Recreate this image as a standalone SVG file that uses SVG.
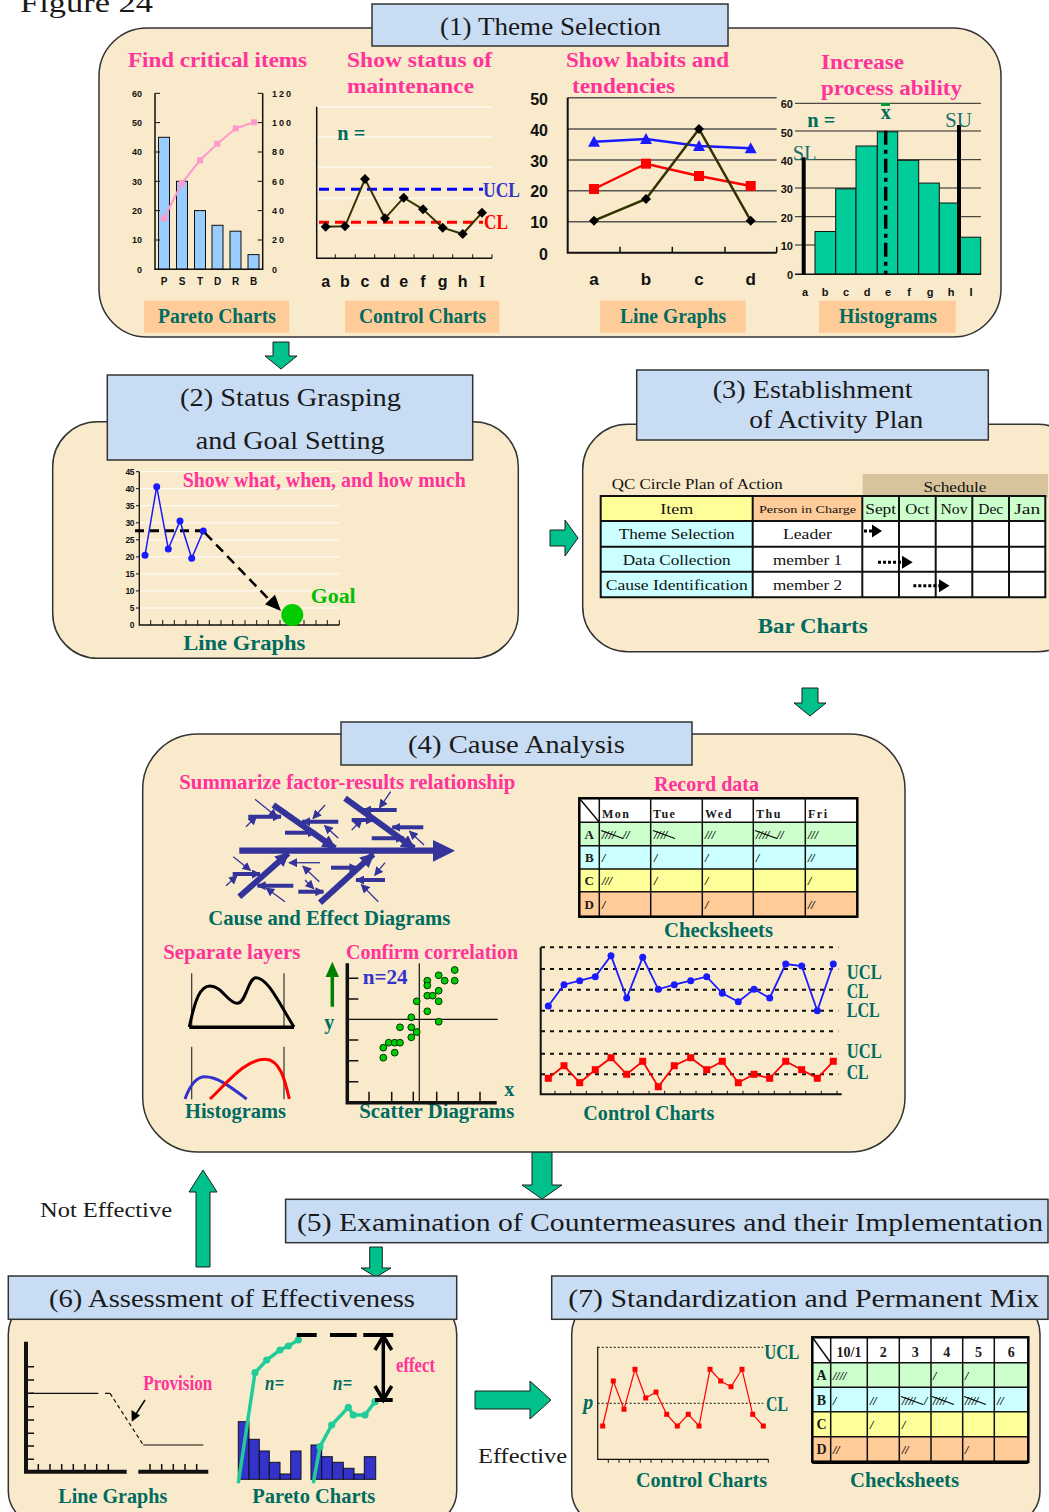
<svg xmlns="http://www.w3.org/2000/svg" width="1049" height="1512" viewBox="0 0 1049 1512">
<defs>
<style>
.panel{fill:#F9EACB;stroke:#333;stroke-width:1.5}
.tbox{fill:#C8DCF4;stroke:#333;stroke-width:1.5}
.ttl{font-family:"Liberation Serif","DejaVu Serif",serif;font-size:26px;fill:#1a1a1a}
.plain{font-family:"Liberation Serif","DejaVu Serif",serif;fill:#1a1a1a}
.pk{font-family:"Liberation Serif","DejaVu Serif",serif;font-weight:bold;font-size:21px;fill:#FF3399}
.tl{font-family:"Liberation Serif","DejaVu Serif",serif;font-weight:bold;font-size:20px;fill:#006B5F}
.lbox{fill:#FFCC99}
.ax{font-family:"Liberation Sans",Arial,sans-serif;font-weight:bold;fill:#111}
.arrow{fill:#00C08C;stroke:#1f1f1f;stroke-width:1}
.tly{font-family:"Liberation Serif",serif;font-style:italic;font-weight:bold;font-size:12px;fill:#000}
.cell{font-family:"Liberation Serif","DejaVu Serif",serif;font-size:14px;fill:#111}
.grid{fill:none;stroke:#111}
.bone{stroke:#333399;fill:none}
</style>
<path id="dia" d="M0,-5L5,0 0,5 -5,0Z" fill="#000"/>
<path id="tri" d="M0,-6L6,5 -6,5Z" fill="#1a1aff"/>
<rect id="sqr" x="-5" y="-5" width="10" height="10" fill="#FF0000"/>
<rect id="sq7" x="-3.5" y="-3.5" width="7" height="7" fill="#FF0000"/>
<rect id="sq5" x="-2.5" y="-2.5" width="5" height="5" fill="#FF0000"/>
<circle id="bdot" r="3.5" fill="#1a1aff"/>
<circle id="gdot" r="3.4" fill="#00CC00" stroke="#003300" stroke-width="1"/>
<circle id="tdot" r="3.6" fill="#22CC99"/>
<g id="five"><text class="tly" x="0" y="0">////</text><line x1="-1" y1="-8" x2="21" y2="0" stroke="#000" stroke-width="1.1"/></g>
<marker id="fh" viewBox="0 0 10 10" refX="9" refY="5" markerWidth="14" markerHeight="14" markerUnits="userSpaceOnUse" orient="auto"><path d="M0,0L10,5 0,10Z" fill="#333399"/></marker>
<marker id="fs" viewBox="0 0 10 10" refX="9" refY="5" markerWidth="9" markerHeight="9" markerUnits="userSpaceOnUse" orient="auto"><path d="M0,0L10,5 0,10Z" fill="#333399"/></marker>
</defs>

<rect width="1049" height="1512" fill="#fff"/>
<text class="plain" x="20" y="12" font-size="28" textLength="133" lengthAdjust="spacingAndGlyphs">Figure 24</text>

<!-- block arrows between stages -->
<g id="connectors">
<path class="arrow" d="M273,342H289V356H297L281,369 265,356H273Z"/>
<path class="arrow" d="M550,530H565V520L578,538 565,556V546H550Z"/>
<path class="arrow" d="M802,688H818V703H826L810,716 794,703H802Z"/>
<path class="arrow" d="M532,1152H552V1185H562L542,1199 522,1185H532Z"/>
<path class="arrow" d="M369.7,1247H382.3V1268H391L376,1277 361,1268H369.7Z"/>
<path class="arrow" d="M196,1267V1192H189L203,1170 217,1192H210V1267Z"/>
<path class="arrow" d="M475,1391H530V1381L551,1400 530,1419V1409H475Z"/>
<text class="plain" x="40" y="1217" font-size="21" textLength="132" lengthAdjust="spacingAndGlyphs">Not Effective</text>
<text class="plain" x="478" y="1463" font-size="21" textLength="89" lengthAdjust="spacingAndGlyphs">Effective</text>
</g>

<!-- (1) Theme Selection -->
<g id="stage1">
<rect class="panel" x="99" y="28" width="902" height="309" rx="48"/>
<rect class="tbox" x="372" y="4" width="356" height="42"/>
<text class="ttl" x="440" y="35" textLength="221" lengthAdjust="spacingAndGlyphs">(1) Theme Selection</text>

<text class="pk" x="128" y="67" textLength="179" lengthAdjust="spacingAndGlyphs">Find critical items</text>
<text class="pk" x="347" y="67" textLength="145" lengthAdjust="spacingAndGlyphs">Show status of</text>
<text class="pk" x="347" y="93" textLength="127" lengthAdjust="spacingAndGlyphs">maintenance</text>
<text class="pk" x="566" y="67" textLength="163" lengthAdjust="spacingAndGlyphs">Show habits and</text>
<text class="pk" x="572" y="93" textLength="103" lengthAdjust="spacingAndGlyphs">tendencies</text>
<text class="pk" x="821" y="69" textLength="83" lengthAdjust="spacingAndGlyphs">Increase</text>
<text class="pk" x="821" y="95" textLength="141" lengthAdjust="spacingAndGlyphs">process ability</text>

<rect class="lbox" x="144" y="300.7" width="145.3" height="32"/>
<rect class="lbox" x="345" y="300.7" width="154.3" height="32"/>
<rect class="lbox" x="600" y="300.7" width="145.7" height="32"/>
<rect class="lbox" x="819" y="300.7" width="136.7" height="32"/>
<text class="tl" x="158" y="323" textLength="118" lengthAdjust="spacingAndGlyphs">Pareto Charts</text>
<text class="tl" x="359" y="323" textLength="127" lengthAdjust="spacingAndGlyphs">Control Charts</text>
<text class="tl" x="620" y="323" textLength="106" lengthAdjust="spacingAndGlyphs">Line Graphs</text>
<text class="tl" x="839" y="323" textLength="98" lengthAdjust="spacingAndGlyphs">Histograms</text>

<!-- Pareto chart -->
<g>
<rect x="158.5" y="137.3" width="11" height="132" fill="#99CCFF" stroke="#111"/>
<rect x="176.5" y="181.3" width="11" height="88" fill="#99CCFF" stroke="#111"/>
<rect x="194.5" y="210.6" width="11" height="58.7" fill="#99CCFF" stroke="#111"/>
<rect x="212" y="225.3" width="11" height="44" fill="#99CCFF" stroke="#111"/>
<rect x="230" y="231.2" width="11" height="38.1" fill="#99CCFF" stroke="#111"/>
<rect x="248" y="254.6" width="11" height="14.7" fill="#99CCFF" stroke="#111"/>
<path class="grid" stroke-width="1.5" d="M155,93.3V269.3H262.7V93.3"/>
<path class="grid" d="M155,93.3h5M155,122.6h5M155,152h5M155,181.3h5M155,210.6h5M155,240h5M262.7,93.3h-5M262.7,122.6h-5M262.7,152h-5M262.7,181.3h-5M262.7,210.6h-5M262.7,240h-5"/>
<polyline points="164,218.3 181.7,183.3 200,160.3 217.3,143.7 235.7,128.3 254,122.3" fill="none" stroke="#FF99CC" stroke-width="2"/>
<g fill="#FF99CC"><rect x="161" y="215.3" width="6" height="6"/><rect x="178.7" y="180.3" width="6" height="6"/><rect x="197" y="157.3" width="6" height="6"/><rect x="214.3" y="140.7" width="6" height="6"/><rect x="232.7" y="125.3" width="6" height="6"/><rect x="251" y="119.3" width="6" height="6"/></g>
<g class="ax" font-size="9" text-anchor="end"><text x="142" y="96.5">60</text><text x="142" y="125.8">50</text><text x="142" y="155.2">40</text><text x="142" y="184.5">30</text><text x="142" y="213.8">20</text><text x="142" y="243.2">10</text><text x="142" y="272.5">0</text></g>
<g class="ax" font-size="9" letter-spacing="2"><text x="272" y="96.5">120</text><text x="272" y="125.8">100</text><text x="272" y="155.2">80</text><text x="272" y="184.5">60</text><text x="272" y="213.8">40</text><text x="272" y="243.2">20</text><text x="272" y="272.5">0</text></g>
<g class="ax" font-size="10" text-anchor="middle"><text x="164" y="285">P</text><text x="182" y="285">S</text><text x="200" y="285">T</text><text x="217.5" y="285">D</text><text x="235.5" y="285">R</text><text x="253.5" y="285">B</text></g>
</g>

<!-- Control chart -->
<g>
<path d="M317,107H492M317,137H492M317,167H492M317,198H492M317,228H492" stroke="#fff" stroke-width="1"/>
<path class="grid" stroke-width="1.5" d="M316.7,106.7V258.3H492"/>
<path class="grid" d="M335.3,258.3v-4M355.3,258.3v-4M374.7,258.3v-4M394.7,258.3v-4M414,258.3v-4M433.3,258.3v-4M452.7,258.3v-4M472.7,258.3v-4M492,258.3v-4"/>
<line x1="319" y1="189.3" x2="483" y2="189.3" stroke="#0000FF" stroke-width="3" stroke-dasharray="10 6"/>
<line x1="319" y1="222.3" x2="483" y2="222.3" stroke="#FF0000" stroke-width="3" stroke-dasharray="10 6"/>
<polyline points="325.7,226.7 345,226.3 365,179 385,218.3 403.7,197.7 423,209.3 442.7,227.7 462.7,234 482,212.7" fill="none" stroke="#333300" stroke-width="2"/>
<use href="#dia" x="325.7" y="226.7"/><use href="#dia" x="345" y="226.3"/><use href="#dia" x="365" y="179"/><use href="#dia" x="385" y="218.3"/><use href="#dia" x="403.7" y="197.7"/><use href="#dia" x="423" y="209.3"/><use href="#dia" x="442.7" y="227.7"/><use href="#dia" x="462.7" y="234"/><use href="#dia" x="482" y="212.7"/>
<text class="tl" x="337.3" y="140" font-size="18" textLength="28" lengthAdjust="spacingAndGlyphs">n =</text>
<text class="tl" x="483" y="197" font-size="18" style="fill:#3333CC" textLength="37" lengthAdjust="spacingAndGlyphs">UCL</text>
<text class="tl" x="484" y="229" font-size="18" style="fill:#FF0000" textLength="24" lengthAdjust="spacingAndGlyphs">CL</text>
<g class="ax" font-size="16" text-anchor="middle"><text x="325.7" y="287">a</text><text x="345" y="287">b</text><text x="365" y="287">c</text><text x="385" y="287">d</text><text x="403.7" y="287">e</text><text x="423" y="287">f</text><text x="442.7" y="287">g</text><text x="462.7" y="287">h</text><text x="482" y="287" font-family="Liberation Serif,serif">I</text></g>
</g>

<!-- Line graph -->
<g>
<path d="M567.7,97.7H776.7M567.7,129H776.7M567.7,160H776.7M567.7,190.7H776.7M567.7,221.7H776.7" stroke="#555" stroke-width="1.5"/>
<path class="grid" stroke-width="2" d="M567.7,97.7V252.7H776.7"/>
<path class="grid" stroke-width="1.5" d="M620,252.7v-6M672.3,252.7v-6M725,252.7v-6M776.7,252.7v-6"/>
<polyline points="594,141.7 646,139 699,146 750.7,148.3" fill="none" stroke="#1a1aff" stroke-width="2.5"/>
<polyline points="594,189 646,163.7 699,176 750.7,186" fill="none" stroke="#FF0000" stroke-width="2.5"/>
<polyline points="594,220.7 646,199 699,129 750.7,220.7" fill="none" stroke="#333300" stroke-width="2.5"/>
<use href="#tri" x="594" y="141.7"/><use href="#tri" x="646" y="139"/><use href="#tri" x="699" y="146"/><use href="#tri" x="750.7" y="148.3"/>
<use href="#sqr" x="594" y="189"/><use href="#sqr" x="646" y="163.7"/><use href="#sqr" x="699" y="176"/><use href="#sqr" x="750.7" y="186"/>
<use href="#dia" x="594" y="220.7"/><use href="#dia" x="646" y="199"/><use href="#dia" x="699" y="129"/><use href="#dia" x="750.7" y="220.7"/>
<g class="ax" font-size="16" text-anchor="end"><text x="548" y="105">50</text><text x="548" y="136">40</text><text x="548" y="167">30</text><text x="548" y="197">20</text><text x="548" y="228">10</text><text x="548" y="260">0</text></g>
<g class="ax" font-size="17" text-anchor="middle"><text x="594" y="285">a</text><text x="646" y="285">b</text><text x="699" y="285">c</text><text x="750.7" y="285">d</text></g>
</g>

<!-- Histogram -->
<g>
<path d="M795,103.3H981M795,131H981M795,159.7H981M795,188H981M795,216.7H981M795,245H981" stroke="#222" stroke-width="1"/>
<g fill="#00CC99" stroke="#111" stroke-width="1">
<rect x="815" y="231.5" width="20.7" height="42.8"/>
<rect x="835.7" y="188.8" width="20.3" height="85.5"/>
<rect x="856" y="146" width="21.3" height="128.3"/>
<rect x="877.3" y="131.8" width="20.4" height="142.5"/>
<rect x="897.7" y="160.3" width="21" height="114"/>
<rect x="918.7" y="183.1" width="20.6" height="91.2"/>
<rect x="939.3" y="203" width="20.7" height="71.3"/>
<rect x="960" y="237.2" width="20.7" height="37.1"/>
</g>
<line x1="795" y1="274.3" x2="981" y2="274.3" stroke="#111" stroke-width="1.5"/>
<line x1="803.7" y1="157.3" x2="803.7" y2="274.3" stroke="#000" stroke-width="4"/>
<line x1="959" y1="125" x2="959" y2="274.3" stroke="#000" stroke-width="4"/>
<line x1="885.7" y1="130.7" x2="885.7" y2="274" stroke="#000" stroke-width="3.5" stroke-dasharray="14 5 4 5"/>
<rect x="881" y="103" width="9" height="3" fill="#009933"/>
<text class="tl" x="885.7" y="119" font-size="18" text-anchor="middle">x</text>
<text class="tl" x="807.3" y="127" font-size="18" textLength="28" lengthAdjust="spacingAndGlyphs">n =</text>
<text class="plain" x="792.7" y="160" font-size="20" style="fill:#1A6E6A" textLength="24" lengthAdjust="spacingAndGlyphs">SL</text>
<text class="plain" x="945" y="127" font-size="20" style="fill:#1A6E6A" textLength="27" lengthAdjust="spacingAndGlyphs">SU</text>
<g class="ax" font-size="11" text-anchor="end"><text x="793" y="108.3">60</text><text x="793" y="136.7">50</text><text x="793" y="165">40</text><text x="793" y="193">30</text><text x="793" y="222">20</text><text x="793" y="250">10</text><text x="793" y="279">0</text></g>
<g class="ax" font-size="11" text-anchor="middle"><text x="805" y="296">a</text><text x="825" y="296">b</text><text x="846" y="296">c</text><text x="867" y="296">d</text><text x="888" y="296">e</text><text x="909" y="296">f</text><text x="930" y="296">g</text><text x="951" y="296">h</text><text x="971" y="296">I</text></g>
</g>
</g>

<!-- (2) Status Grasping and Goal Setting -->
<g id="stage2">
<rect class="panel" x="52.7" y="421.7" width="465.6" height="236.6" rx="45"/>
<rect class="tbox" x="107.3" y="375" width="365.4" height="85"/>
<text class="ttl" x="180" y="406" textLength="221" lengthAdjust="spacingAndGlyphs">(2) Status Grasping</text>
<text class="ttl" x="195.7" y="449" textLength="189" lengthAdjust="spacingAndGlyphs">and Goal Setting</text>
<path d="M139.3,471.7H339.3M139.3,488.7H339.3M139.3,505.7H339.3M139.3,522.8H339.3M139.3,539.8H339.3M139.3,556.9H339.3M139.3,573.9H339.3M139.3,590.9H339.3M139.3,608H339.3" stroke="#fff" stroke-width="1"/>
<path class="grid" stroke-width="1.3" d="M139.3,471.7V625H339.3"/>
<path class="grid" d="M136,471.7h3.3M136,488.7h3.3M136,505.7h3.3M136,522.8h3.3M136,539.8h3.3M136,556.9h3.3M136,573.9h3.3M136,590.9h3.3M136,608h3.3M150.7,625v-5M162.7,625v-5M174.3,625v-5M186,625v-5M197.7,625v-5M209.3,625v-5M221,625v-5M232.7,625v-5M245,625v-5M256.7,625v-5M268.3,625v-5M280,625v-5M292.7,625v-5M304,625v-5M316,625v-5M327.3,625v-5M339.3,625v-5"/>
<g class="ax" font-size="8.5" text-anchor="end" letter-spacing="-0.5"><text x="134" y="475">45</text><text x="134" y="492">40</text><text x="134" y="509">35</text><text x="134" y="526">30</text><text x="134" y="543">25</text><text x="134" y="560">20</text><text x="134" y="577">15</text><text x="134" y="594">10</text><text x="134" y="611">5</text><text x="134" y="628">0</text></g>
<line x1="135" y1="530.7" x2="203" y2="530.7" stroke="#000" stroke-width="3" stroke-dasharray="9 6"/>
<polyline points="145,555.3 156.7,486.7 168.3,549 180,521 191.7,558.3 203.3,531" fill="none" stroke="#1a1aff" stroke-width="1.5"/>
<use href="#bdot" x="145" y="555.3"/><use href="#bdot" x="156.7" y="486.7"/><use href="#bdot" x="168.3" y="549"/><use href="#bdot" x="180" y="521"/><use href="#bdot" x="191.7" y="558.3"/><use href="#bdot" x="203.3" y="531"/>
<line x1="205" y1="533" x2="271" y2="601.5" stroke="#000" stroke-width="2.5" stroke-dasharray="10 6"/>
<path d="M265,604.3L275,594.7 281,611Z" fill="#000"/>
<circle cx="292.3" cy="615" r="11" fill="#00CC00"/>
<text class="pk" x="182.7" y="487" font-size="19" textLength="283" lengthAdjust="spacingAndGlyphs">Show what, when, and how much</text>
<text class="tl" x="310.7" y="603" font-size="22" style="fill:#00C000" textLength="45" lengthAdjust="spacingAndGlyphs">Goal</text>
<text class="tl" x="183.3" y="650" font-size="22" textLength="122" lengthAdjust="spacingAndGlyphs">Line Graphs</text>
</g>

<!-- (3) Establishment of Activity Plan -->
<g id="stage3">
<rect class="panel" x="582.7" y="424.3" width="500" height="227.4" rx="45"/>
<rect class="tbox" x="636.7" y="370" width="351.6" height="70"/>
<text class="ttl" x="712.7" y="398" textLength="200" lengthAdjust="spacingAndGlyphs">(3) Establishment</text>
<text class="ttl" x="749.3" y="428" textLength="174" lengthAdjust="spacingAndGlyphs">of Activity Plan</text>
<text class="cell" x="611.7" y="489" font-size="15" textLength="171" lengthAdjust="spacingAndGlyphs">QC Circle Plan of Action</text>
<rect x="862.7" y="474" width="185.3" height="23.7" fill="#D8C49C"/>
<text class="cell" x="955" y="491.5" text-anchor="middle" textLength="63" lengthAdjust="spacingAndGlyphs">Schedule</text>
<rect x="600.7" y="496" width="152" height="25" fill="#FFFF99"/>
<rect x="752.7" y="496" width="109.6" height="25" fill="#FFCC99"/>
<rect x="862.3" y="496" width="183" height="25" fill="#CCFFCC"/>
<rect x="600.7" y="521" width="152" height="76.3" fill="#CCFFFF"/>
<rect x="752.7" y="521" width="292.6" height="76.3" fill="#fff"/>
<path class="grid" stroke-width="2" d="M600.7,496H1045.3V597.3H600.7ZM600.7,521H1045.3M600.7,546.7H1045.3M600.7,571.7H1045.3M752.7,496V597.3M862.3,496V597.3M899,496V597.3M935.7,496V597.3M972.3,496V597.3M1009,496V597.3"/>
<g class="cell" text-anchor="middle">
<text x="676.7" y="514" textLength="33" lengthAdjust="spacingAndGlyphs">Item</text>
<text x="807.5" y="513" font-size="11" textLength="97" lengthAdjust="spacingAndGlyphs">Person in Charge</text>
<text x="880.7" y="514" textLength="31" lengthAdjust="spacingAndGlyphs">Sept</text>
<text x="917.3" y="514" textLength="24" lengthAdjust="spacingAndGlyphs">Oct</text>
<text x="954" y="514" textLength="27" lengthAdjust="spacingAndGlyphs">Nov</text>
<text x="990.7" y="514" textLength="25" lengthAdjust="spacingAndGlyphs">Dec</text>
<text x="1027.2" y="514" textLength="26" lengthAdjust="spacingAndGlyphs">Jan</text>
<text x="676.7" y="539" textLength="116" lengthAdjust="spacingAndGlyphs">Theme Selection</text>
<text x="676.7" y="564.5" textLength="108" lengthAdjust="spacingAndGlyphs">Data Collection</text>
<text x="676.7" y="590" textLength="142" lengthAdjust="spacingAndGlyphs">Cause Identification</text>
<text x="807.5" y="539" textLength="49" lengthAdjust="spacingAndGlyphs">Leader</text>
<text x="807.5" y="564.5" textLength="69" lengthAdjust="spacingAndGlyphs">member 1</text>
<text x="807.5" y="590" textLength="69" lengthAdjust="spacingAndGlyphs">member 2</text>
</g>
<g stroke="#000" stroke-width="3" stroke-dasharray="3 2">
<line x1="864" y1="531" x2="872" y2="531"/>
<line x1="878" y1="562.3" x2="902" y2="562.3"/>
<line x1="913.3" y1="585.7" x2="939" y2="585.7"/>
</g>
<path d="M872,524.5L882,531 872,537.5ZM902,555.8L912.7,562.3 902,568.8ZM939,579.2L949.5,585.7 939,592.2Z" fill="#000"/>
<text class="tl" x="757.7" y="633" font-size="22" textLength="110" lengthAdjust="spacingAndGlyphs">Bar Charts</text>
</g>

<!-- (4) Cause Analysis -->
<g id="stage4">
<rect class="panel" x="142.7" y="734" width="762.3" height="418" rx="55"/>
<rect class="tbox" x="341" y="722" width="351" height="43"/>
<text class="ttl" x="408" y="753" textLength="217" lengthAdjust="spacingAndGlyphs">(4) Cause Analysis</text>

<text class="pk" x="179.3" y="789" font-size="20" textLength="336" lengthAdjust="spacingAndGlyphs">Summarize factor-results relationship</text>
<text class="pk" x="654" y="791" font-size="20" textLength="105" lengthAdjust="spacingAndGlyphs">Record data</text>
<text class="pk" x="163.3" y="959" font-size="20" textLength="137" lengthAdjust="spacingAndGlyphs">Separate layers</text>
<text class="pk" x="346" y="959" font-size="20" textLength="172" lengthAdjust="spacingAndGlyphs">Confirm correlation</text>
<text class="tl" x="208.3" y="925" textLength="242" lengthAdjust="spacingAndGlyphs">Cause and Effect Diagrams</text>
<text class="tl" x="664" y="937" textLength="109" lengthAdjust="spacingAndGlyphs">Checksheets</text>
<text class="tl" x="185" y="1118" textLength="101" lengthAdjust="spacingAndGlyphs">Histograms</text>
<text class="tl" x="359.3" y="1118" textLength="155" lengthAdjust="spacingAndGlyphs">Scatter Diagrams</text>
<text class="tl" x="583.3" y="1120" textLength="131" lengthAdjust="spacingAndGlyphs">Control Charts</text>

<!-- cause and effect (fishbone) -->
<g>
<line x1="239.3" y1="850.7" x2="434" y2="850.7" stroke="#333399" stroke-width="6.3"/>
<path d="M433,840L455,850.7 433,861.7Z" fill="#333399"/>
<g class="bone" stroke-width="6" marker-end="url(#fh)">
<line x1="273.3" y1="805" x2="335" y2="848.3"/>
<line x1="345" y1="798.3" x2="414" y2="848.3"/>
<line x1="239.3" y1="896.7" x2="288.3" y2="853.3"/>
<line x1="320" y1="902.7" x2="373.3" y2="854.3"/>
</g>
<g class="bone" stroke-width="4" marker-end="url(#fs)">
<line x1="248.3" y1="816.7" x2="281" y2="816.7"/>
<line x1="285" y1="832.7" x2="316" y2="832.7"/>
<line x1="338.3" y1="821.7" x2="302" y2="821.7"/>
<line x1="396.7" y1="810" x2="363" y2="810"/>
<line x1="351.7" y1="820" x2="374" y2="820"/>
<line x1="423.3" y1="827.3" x2="392.3" y2="827.3"/>
<line x1="371.7" y1="838.3" x2="404" y2="838.3"/>
<line x1="232.7" y1="874" x2="260" y2="874"/>
<line x1="293.3" y1="885.7" x2="257.5" y2="885.7"/>
<line x1="331" y1="867.7" x2="357.5" y2="867.7"/>
<line x1="385" y1="880" x2="356" y2="880"/>
<line x1="298.3" y1="891.7" x2="323.5" y2="891.7"/>
</g>
<g class="bone" stroke-width="1.3" marker-end="url(#fs)">
<line x1="320" y1="862.7" x2="289" y2="862.7"/>
<line x1="255" y1="799.3" x2="277" y2="817"/>
<line x1="246" y1="826.7" x2="256.5" y2="816.5"/>
<line x1="325" y1="805" x2="313" y2="818.5"/>
<line x1="338.3" y1="838.3" x2="324.5" y2="825.5"/>
<line x1="390.7" y1="791.7" x2="379.5" y2="807.8"/>
<line x1="424" y1="845" x2="409.5" y2="831.2"/>
<line x1="351.7" y1="830" x2="362" y2="819.7"/>
<line x1="233.3" y1="856.7" x2="250.5" y2="870.5"/>
<line x1="226" y1="885.7" x2="237" y2="875.7"/>
<line x1="285" y1="901.7" x2="266.2" y2="888"/>
<line x1="319.3" y1="881.7" x2="302.8" y2="866.2"/>
<line x1="385" y1="862.7" x2="374.7" y2="875.4"/>
<line x1="378.3" y1="901.7" x2="361.3" y2="884.6"/>
<line x1="305" y1="880" x2="313.7" y2="888.7"/>
</g>
</g>

<!-- checksheet -->
<g>
<rect x="579.3" y="798.3" width="278" height="24" fill="#fff"/>
<rect x="579.3" y="822.3" width="278" height="23.4" fill="#CCFFCC"/>
<rect x="579.3" y="845.7" width="278" height="23.3" fill="#CCFFFF"/>
<rect x="579.3" y="869" width="278" height="22.7" fill="#FFFF99"/>
<rect x="579.3" y="891.7" width="278" height="25" fill="#FFCC99"/>
<path class="grid" stroke-width="1.5" d="M579.3,822.3H857.3M579.3,845.7H857.3M579.3,869H857.3M579.3,891.7H857.3M599.3,798.3V916.7M650.7,798.3V916.7M702.3,798.3V916.7M753.3,798.3V916.7M805.3,798.3V916.7M579.3,798.3L599.3,822.3"/>
<rect x="579.3" y="798.3" width="278" height="118.4" fill="none" stroke="#000" stroke-width="2.5"/>
<g class="plain" font-size="12" font-weight="bold" letter-spacing="1.5"><text x="602" y="818.3">Mon</text><text x="653" y="818.3">Tue</text><text x="705" y="818.3">Wed</text><text x="756" y="818.3">Thu</text><text x="808" y="818.3">Fri</text></g>
<g class="plain" font-size="13" font-weight="bold" text-anchor="middle"><text x="589.3" y="838.5">A</text><text x="589.3" y="862">B</text><text x="589.3" y="885">C</text><text x="589.3" y="909">D</text></g>
<use href="#five" x="602" y="838.5"/><text class="tly" x="623" y="838.5">//</text>
<use href="#five" x="654" y="838.5"/>
<text class="tly" x="705" y="838.5">///</text>
<use href="#five" x="756" y="838.5"/><text class="tly" x="777" y="838.5">//</text>
<text class="tly" x="808" y="838.5">///</text>
<text class="tly" x="602" y="862">/</text><text class="tly" x="654" y="862">/</text><text class="tly" x="705" y="862">/</text><text class="tly" x="756" y="862">/</text><text class="tly" x="808" y="862">//</text>
<text class="tly" x="602" y="885">///</text><text class="tly" x="654" y="885">/</text><text class="tly" x="705" y="885">/</text><text class="tly" x="808" y="885">/</text>
<text class="tly" x="602" y="909">/</text><text class="tly" x="705" y="909">/</text><text class="tly" x="808" y="909">//</text>
</g>

<!-- stratified histograms -->
<g fill="none">
<path d="M191.7,973.3V1027.3M284,973.3V1027.3M191.7,1046.7V1099.3M284,1046.7V1099.3" stroke="#333" stroke-width="1.2"/>
<line x1="189.3" y1="1027.3" x2="294" y2="1027.3" stroke="#000" stroke-width="3.5"/>
<path d="M189.3,1027C195,1000 200,986 210,986C222,986 228,1003.3 237.3,1003.3C246,1003.3 248,977.7 256,977.7C268,977.7 280,1005 294,1027" stroke="#000" stroke-width="3"/>
<path d="M185,1099C190,1085 196,1076.7 205,1076.7C218,1076.7 232,1088 246.7,1099" stroke="#3333CC" stroke-width="3"/>
<path d="M210,1099C228,1082 245,1059.3 265,1059.3C280,1059.3 285,1080 289.3,1099" stroke="#FF0000" stroke-width="3"/>
</g>

<!-- scatter diagram -->
<g>
<path class="grid" stroke-width="1.2" d="M347,1019.3H497.7M419.3,963.3V1102.7"/>
<path class="grid" stroke-width="1.5" d="M347.3,978.3h11M347.3,999h11M347.3,1040h11M347.3,1060.7h11M347.3,1081.7h11M369,1102.7v-11M391.7,1102.7v-11M413.3,1102.7v-11M436.7,1102.7v-11M458.3,1102.7v-11M480,1102.7v-11"/>
<path class="grid" stroke-width="3.5" d="M347.3,963.3V1102.7H496.7"/>
<line x1="332.3" y1="1006.7" x2="332.3" y2="975" stroke="#008000" stroke-width="3.5"/>
<path d="M325.5,977L339,977 332.3,961.7Z" fill="#008000"/>
<text class="tl" x="329.3" y="1029.3" font-size="22" text-anchor="middle">y</text>
<text class="tl" x="509.3" y="1096" font-size="22" text-anchor="middle">x</text>
<text class="tl" x="362.7" y="984.3" font-size="18" style="fill:#3333CC" textLength="45" lengthAdjust="spacingAndGlyphs">n=24</text>
<use href="#gdot" x="383.3" y="1057.7"/><use href="#gdot" x="383.3" y="1047.7"/><use href="#gdot" x="388.7" y="1042.7"/><use href="#gdot" x="394.7" y="1042.7"/><use href="#gdot" x="400" y="1042.7"/><use href="#gdot" x="394.7" y="1052.7"/><use href="#gdot" x="400" y="1027.3"/><use href="#gdot" x="411.3" y="1027.3"/><use href="#gdot" x="411.3" y="1037.3"/><use href="#gdot" x="411.3" y="1017.3"/><use href="#gdot" x="416.7" y="1032"/><use href="#gdot" x="416.7" y="1001.3"/><use href="#gdot" x="427.3" y="980.7"/><use href="#gdot" x="427.3" y="985.5"/><use href="#gdot" x="427.3" y="995.7"/><use href="#gdot" x="427.3" y="1011.3"/><use href="#gdot" x="432.7" y="995.7"/><use href="#gdot" x="438.7" y="975.3"/><use href="#gdot" x="438.7" y="990.7"/><use href="#gdot" x="438.7" y="1001.3"/><use href="#gdot" x="438.7" y="1021.7"/><use href="#gdot" x="444.7" y="980.7"/><use href="#gdot" x="454.7" y="970"/><use href="#gdot" x="454.7" y="980.7"/>
</g>

<!-- control charts -->
<g>
<path d="M541,947.3H838.3M541,969H838.3M541,989.7H838.3M541,1010.7H838.3M541,1031.3H838.3M541,1053.7H838.3M541,1074.3H838.3" stroke="#111" stroke-width="2" stroke-dasharray="4 5"/>
<path class="grid" stroke-width="2" d="M540.7,947.3V1094.3H841.7"/>
<path class="grid" d="M555,1094.3v-3.5M570.7,1094.3v-3.5M586.3,1094.3v-3.5M602,1094.3v-3.5M617.7,1094.3v-3.5M633.3,1094.3v-3.5M649,1094.3v-3.5M664.7,1094.3v-3.5M680.3,1094.3v-3.5M696,1094.3v-3.5M711.7,1094.3v-3.5M727.3,1094.3v-3.5M743,1094.3v-3.5M758.7,1094.3v-3.5M774.3,1094.3v-3.5M790,1094.3v-3.5M805.7,1094.3v-3.5M821.3,1094.3v-3.5M837,1094.3v-3.5"/>
<polyline points="548.3,1006 564,984.7 579.7,980.7 595.3,976.7 611,955.7 626.7,998 642.7,957.3 658.3,989.3 674.3,984.7 690.7,980.7 706.7,976.7 722.3,993.3 738.3,1001.7 754,989.3 769.7,998 785.7,964 801.7,966 817.3,1010.7 833.3,964" fill="none" stroke="#1a1aff" stroke-width="1.8"/>
<use href="#bdot" x="548.3" y="1006"/><use href="#bdot" x="564" y="984.7"/><use href="#bdot" x="579.7" y="980.7"/><use href="#bdot" x="595.3" y="976.7"/><use href="#bdot" x="611" y="955.7"/><use href="#bdot" x="626.7" y="998"/><use href="#bdot" x="642.7" y="957.3"/><use href="#bdot" x="658.3" y="989.3"/><use href="#bdot" x="674.3" y="984.7"/><use href="#bdot" x="690.7" y="980.7"/><use href="#bdot" x="706.7" y="976.7"/><use href="#bdot" x="722.3" y="993.3"/><use href="#bdot" x="738.3" y="1001.7"/><use href="#bdot" x="754" y="989.3"/><use href="#bdot" x="769.7" y="998"/><use href="#bdot" x="785.7" y="964"/><use href="#bdot" x="801.7" y="966"/><use href="#bdot" x="817.3" y="1010.7"/><use href="#bdot" x="833.3" y="964"/>
<polyline points="548.3,1078.3 564,1065.7 579.7,1082.7 595.3,1069.7 611,1057.7 626.7,1074.3 642.7,1061.3 658.3,1086.7 674.3,1065.7 690.7,1057.7 706.7,1069.7 722.3,1061.3 738.3,1082.7 754,1074.3 769.7,1078.3 785.7,1061.3 801.7,1069.7 817.3,1078.3 833.3,1061.3" fill="none" stroke="#FF0000" stroke-width="1.8"/>
<use href="#sq7" x="548.3" y="1078.3"/><use href="#sq7" x="564" y="1065.7"/><use href="#sq7" x="579.7" y="1082.7"/><use href="#sq7" x="595.3" y="1069.7"/><use href="#sq7" x="611" y="1057.7"/><use href="#sq7" x="626.7" y="1074.3"/><use href="#sq7" x="642.7" y="1061.3"/><use href="#sq7" x="658.3" y="1086.7"/><use href="#sq7" x="674.3" y="1065.7"/><use href="#sq7" x="690.7" y="1057.7"/><use href="#sq7" x="706.7" y="1069.7"/><use href="#sq7" x="722.3" y="1061.3"/><use href="#sq7" x="738.3" y="1082.7"/><use href="#sq7" x="754" y="1074.3"/><use href="#sq7" x="769.7" y="1078.3"/><use href="#sq7" x="785.7" y="1061.3"/><use href="#sq7" x="801.7" y="1069.7"/><use href="#sq7" x="817.3" y="1078.3"/><use href="#sq7" x="833.3" y="1061.3"/>
<g class="tl" font-size="16"><text x="846.7" y="979.3" textLength="35" lengthAdjust="spacingAndGlyphs">UCL</text><text x="846.7" y="998.3" textLength="22" lengthAdjust="spacingAndGlyphs">CL</text><text x="846.7" y="1017.3" textLength="33" lengthAdjust="spacingAndGlyphs">LCL</text><text x="846.7" y="1058.3" textLength="35" lengthAdjust="spacingAndGlyphs">UCL</text><text x="846.7" y="1079.3" textLength="22" lengthAdjust="spacingAndGlyphs">CL</text></g>
</g>
</g>

<!-- (5) Examination of Countermeasures -->
<g id="stage5">
<rect class="tbox" x="285.6" y="1199.3" width="762.4" height="43.4"/>
<text class="ttl" x="297" y="1231" textLength="746" lengthAdjust="spacingAndGlyphs">(5) Examination of Countermeasures and their Implementation</text>
</g>

<!-- (6) Assessment of Effectiveness -->
<g id="stage6">
<rect class="panel" x="8.3" y="1300" width="448.4" height="225" rx="34"/>
<rect class="tbox" x="8.3" y="1276" width="448.4" height="43.3"/>
<text class="ttl" x="49" y="1307" textLength="366" lengthAdjust="spacingAndGlyphs">(6) Assessment of Effectiveness</text>
<!-- before / after line graph -->
<path class="grid" stroke-width="4" d="M26,1341.7V1471.7H126.7M138.3,1471.7H208.3"/>
<path class="grid" stroke-width="1.5" d="M26,1366.7h8M26,1380h8M26,1393.3h8M26,1406.7h8M26,1420h8M26,1433.3h8M26,1446h8M26,1459.3h8M38.3,1471v-7M50,1471v-7M61.7,1471v-7M73.3,1471v-7M85,1471v-7M96.7,1471v-7M108.3,1471v-7M150,1471v-7M161.7,1471v-7M173.3,1471v-7M185,1471v-7M196.7,1471v-7"/>
<path class="grid" stroke-width="1.2" d="M30,1393.3H98.3M105,1393.3H110M143.3,1445H203.3"/>
<line x1="110" y1="1393.3" x2="143.3" y2="1445" stroke="#111" stroke-width="1.2" stroke-dasharray="4 3"/>
<line x1="145" y1="1400" x2="136" y2="1414" stroke="#000" stroke-width="1.5"/>
<path d="M131.7,1421.7L131.5,1410 140,1415.5Z" fill="#000"/>
<text class="pk" x="143.3" y="1390" font-size="16" textLength="69" lengthAdjust="spacingAndGlyphs">Provision</text>
<!-- before / after pareto -->
<g fill="#3333CC" stroke="#111" stroke-width="1">
<rect x="238.3" y="1421.7" width="10.7" height="57.6"/><rect x="249" y="1439.3" width="10.3" height="40"/><rect x="259.3" y="1451" width="10" height="28.3"/><rect x="269.3" y="1462.3" width="10.7" height="17"/><rect x="280" y="1474" width="10.7" height="5.3"/><rect x="290.7" y="1451" width="10.3" height="28.3"/>
<rect x="311" y="1445" width="10.7" height="34.3"/><rect x="321.7" y="1456.7" width="10.6" height="22.6"/><rect x="332.3" y="1462.3" width="11" height="17"/><rect x="343.3" y="1468.3" width="10.7" height="11"/><rect x="354" y="1474" width="10.3" height="5.3"/><rect x="364.3" y="1456.7" width="11.4" height="22.6"/>
</g>
<polyline points="238.3,1483.3 255,1372.7 266.7,1360 280,1350 288.3,1346 298.3,1340" fill="none" stroke="#22CC99" stroke-width="3.5"/>
<polyline points="313.3,1483.3 320,1446.7 331.7,1425 348.3,1407.3 353.3,1415 365,1415 375,1401.7" fill="none" stroke="#22CC99" stroke-width="3.5"/>
<use href="#tdot" x="255" y="1372.7"/><use href="#tdot" x="266.7" y="1360"/><use href="#tdot" x="280" y="1350"/><use href="#tdot" x="288.3" y="1346"/><use href="#tdot" x="298.3" y="1340"/>
<use href="#tdot" x="320" y="1446.7"/><use href="#tdot" x="331.7" y="1425"/><use href="#tdot" x="348.3" y="1407.3"/><use href="#tdot" x="353.3" y="1415"/><use href="#tdot" x="365" y="1415"/><use href="#tdot" x="375" y="1401.7"/>
<path d="M296.7,1335H316.7M330,1335H356.7M363.3,1335H393.3M375,1400H392.7" stroke="#000" stroke-width="4"/>
<line x1="383.3" y1="1337" x2="383.3" y2="1399" stroke="#000" stroke-width="3.5"/>
<path d="M375,1350L383.3,1336 391.7,1350M375,1386L383.3,1400 391.7,1386" fill="none" stroke="#000" stroke-width="3.5"/>
<text class="pk" x="396" y="1372" font-size="16" textLength="39" lengthAdjust="spacingAndGlyphs">effect</text>
<text class="tl" x="265" y="1390" font-size="16" font-style="italic" textLength="19" lengthAdjust="spacingAndGlyphs">n=</text>
<text class="tl" x="333" y="1390" font-size="16" font-style="italic" textLength="19" lengthAdjust="spacingAndGlyphs">n=</text>
<text class="tl" x="58.3" y="1503" textLength="109" lengthAdjust="spacingAndGlyphs">Line Graphs</text>
<text class="tl" x="252.3" y="1503" textLength="123" lengthAdjust="spacingAndGlyphs">Pareto Charts</text>
</g>

<!-- (7) Standardization and Permanent Mix -->
<g id="stage7">
<rect class="panel" x="571.7" y="1300" width="468.3" height="225" rx="34"/>
<rect class="tbox" x="551.7" y="1276" width="496.3" height="43.3"/>
<text class="ttl" x="568.3" y="1307" textLength="471" lengthAdjust="spacingAndGlyphs">(7) Standardization and Permanent Mix</text>
<!-- p chart -->
<path d="M597.7,1347.3H763.3M597.7,1403.3H763.3" stroke="#111" stroke-width="1" stroke-dasharray="2 2"/>
<path class="grid" stroke-width="1.2" d="M597.7,1346.7V1459.3H768.3"/>
<path class="grid" d="M608.3,1459.3v3.5M619,1459.3v3.5M629.7,1459.3v3.5M640.3,1459.3v3.5M651,1459.3v3.5M661.7,1459.3v3.5M672.3,1459.3v3.5M683,1459.3v3.5M693.7,1459.3v3.5M704.3,1459.3v3.5M715,1459.3v3.5M725.7,1459.3v3.5M736.3,1459.3v3.5M747,1459.3v3.5M757.7,1459.3v3.5M768.3,1459.3v3.5"/>
<polyline points="602.7,1426 613.3,1381 624,1409.3 635,1369.3 645.7,1398 656,1392 666.7,1414.3 677.3,1426 688.3,1414.3 699,1426 710,1369.3 720.7,1381 731,1386.7 742,1369.3 752.7,1414.3 763.3,1426" fill="none" stroke="#FF0000" stroke-width="1.2"/>
<use href="#sq5" x="602.7" y="1426"/><use href="#sq5" x="613.3" y="1381"/><use href="#sq5" x="624" y="1409.3"/><use href="#sq5" x="635" y="1369.3"/><use href="#sq5" x="645.7" y="1398"/><use href="#sq5" x="656" y="1392"/><use href="#sq5" x="666.7" y="1414.3"/><use href="#sq5" x="677.3" y="1426"/><use href="#sq5" x="688.3" y="1414.3"/><use href="#sq5" x="699" y="1426"/><use href="#sq5" x="710" y="1369.3"/><use href="#sq5" x="720.7" y="1381"/><use href="#sq5" x="731" y="1386.7"/><use href="#sq5" x="742" y="1369.3"/><use href="#sq5" x="752.7" y="1414.3"/><use href="#sq5" x="763.3" y="1426"/>
<text class="tl" x="764.3" y="1359.3" font-size="18" textLength="35" lengthAdjust="spacingAndGlyphs">UCL</text>
<text class="tl" x="766" y="1411" font-size="18" textLength="22" lengthAdjust="spacingAndGlyphs">CL</text>
<text class="tl" x="583.3" y="1409.3" font-size="18" font-style="italic">p</text>
<!-- checksheet -->
<rect x="812.3" y="1337.3" width="216" height="25.4" fill="#fff"/>
<rect x="812.3" y="1362.7" width="216" height="24.6" fill="#CCFFCC"/>
<rect x="812.3" y="1387.3" width="216" height="24.4" fill="#CCFFFF"/>
<rect x="812.3" y="1411.7" width="216" height="25" fill="#FFFF99"/>
<rect x="812.3" y="1436.7" width="216" height="25" fill="#FFCC99"/>
<path class="grid" stroke-width="1.5" d="M812.3,1362.7H1028.3M812.3,1387.3H1028.3M812.3,1411.7H1028.3M812.3,1436.7H1028.3M830.7,1337.3V1461.7M867.3,1337.3V1461.7M899.3,1337.3V1461.7M931,1337.3V1461.7M962.7,1337.3V1461.7M994.3,1337.3V1461.7M812.3,1337.3L830.7,1362.7"/>
<rect x="812.3" y="1337.3" width="216" height="124.4" fill="none" stroke="#000" stroke-width="2.5"/>
<line x1="812.3" y1="1463.5" x2="1028.3" y2="1463.5" stroke="#000" stroke-width="1"/>
<g class="plain" font-size="14" font-weight="bold" text-anchor="middle"><text x="849" y="1357.3">10/1</text><text x="883.3" y="1357.3">2</text><text x="915.2" y="1357.3">3</text><text x="946.8" y="1357.3">4</text><text x="978.5" y="1357.3">5</text><text x="1011.3" y="1357.3">6</text></g>
<g class="plain" font-size="14" font-weight="bold" text-anchor="middle"><text x="821.5" y="1380">A</text><text x="821.5" y="1404.5">B</text><text x="821.5" y="1429">C</text><text x="821.5" y="1454">D</text></g>
<text class="tly" x="833" y="1380">////</text><text class="tly" x="933" y="1380">/</text><text class="tly" x="965" y="1380">/</text>
<text class="tly" x="833" y="1404.5">/</text><text class="tly" x="870" y="1404.5">//</text><use href="#five" x="902" y="1404.5"/><text class="tly" x="924" y="1404.5">/</text><use href="#five" x="933" y="1404.5"/><use href="#five" x="965" y="1404.5"/><text class="tly" x="997" y="1404.5">//</text>
<text class="tly" x="870" y="1429">/</text><text class="tly" x="902" y="1429">/</text>
<text class="tly" x="833" y="1454">//</text><text class="tly" x="902" y="1454">//</text><text class="tly" x="965" y="1454">/</text>
<text class="tl" x="636" y="1487" textLength="131" lengthAdjust="spacingAndGlyphs">Control Charts</text>
<text class="tl" x="850" y="1487" textLength="109" lengthAdjust="spacingAndGlyphs">Checksheets</text>
</g>
</svg>
